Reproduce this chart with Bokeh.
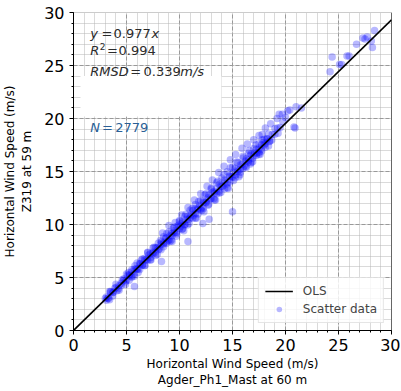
from bokeh.plotting import figure
from bokeh.models import (Label, BoxAnnotation, Span, SingleIntervalTicker, Range1d)
from bokeh.embed import file_html
from bokeh.resources import INLINE

# ---------------- data ----------------
slope = 0.977
n_points = 2779
r2 = 0.994
rmsd = 0.339

core_x = [3.00, 3.25, 3.50, 3.75, 4.00, 4.25, 4.50, 4.75, 5.00, 5.25, 5.50, 5.75, 6.00, 6.25,
          6.50, 6.75, 7.00, 7.25, 7.50, 7.75, 8.00, 8.25, 8.50, 8.75, 9.00, 9.25, 9.50, 9.75,
          10.00, 10.25, 10.50, 10.75, 11.00, 11.25, 11.50, 11.75, 12.00, 12.25, 12.50, 12.75,
          13.00, 13.25, 13.50, 13.75, 14.00, 14.25, 14.50, 14.75, 15.00, 15.25, 15.50, 15.75,
          16.00, 16.25, 16.50, 16.75, 17.00, 17.25, 17.50, 17.75, 18.00, 18.25, 18.50, 18.75,
          19.00, 19.25, 19.50, 19.75, 20.00]
core_y = [3.03, 3.06, 3.62, 3.61, 4.06, 3.95, 4.45, 4.89, 4.74, 5.23, 5.12, 5.80, 5.78, 6.33,
          6.17, 6.64, 6.62, 7.23, 7.23, 7.82, 7.62, 8.14, 8.15, 8.75, 8.54, 9.16, 9.23, 9.81,
          9.59, 10.11, 9.98, 10.72, 10.63, 11.29, 11.02, 11.53, 11.42, 12.22, 12.13, 12.78,
          12.45, 13.10, 12.89, 13.78, 13.58, 14.20, 13.82, 14.53, 14.46, 15.28, 14.99, 15.64,
          15.31, 15.98, 15.90, 16.66, 16.49, 17.07, 16.82, 17.49, 17.49, 18.08, 17.87, 18.50,
          18.51, 19.11, 19.15, 19.70, 20.09]

dense_x = [3.1, 3.3, 3.5, 3.7, 3.9, 4.1, 4.3, 4.5, 4.7, 4.9, 5.1, 5.3, 5.5, 5.7, 5.9, 6.1,
           6.3, 6.5, 6.7, 6.9, 7.1, 7.3, 7.5, 7.7, 7.9, 8.1, 8.3, 8.5, 8.7, 8.9, 9.1, 9.3,
           9.5, 9.7, 9.9, 10.1, 10.3, 10.5, 10.7, 10.9, 11.1, 11.3, 11.5, 11.7, 11.9, 12.1,
           12.3, 12.5, 12.7, 12.9, 13.1, 13.3, 13.5, 13.7, 13.9, 14.1, 14.3, 14.5, 14.7, 14.9,
           15.1, 15.3, 15.5, 15.7, 15.9, 16.1, 16.3, 16.5, 16.7, 16.9, 17.1, 17.3, 17.5, 17.7,
           17.9, 18.1, 18.3, 18.5]
dense_y = [3.15, 3.02, 3.67, 3.56, 3.99, 3.76, 4.25, 4.25, 4.71, 4.59, 5.23, 5.13, 5.55, 5.32,
           5.81, 5.81, 6.28, 6.15, 6.80, 6.69, 7.12, 6.88, 7.38, 7.37, 7.84, 7.71, 8.36, 8.25,
           8.68, 8.45, 8.94, 8.94, 9.40, 9.28, 9.92, 9.82, 10.24, 10.01, 10.50, 10.50, 10.96,
           10.84, 11.49, 11.38, 11.81, 11.57, 12.07, 12.06, 12.53, 12.40, 13.05, 12.94, 13.37,
           13.13, 13.63, 13.63, 14.09, 13.97, 14.61, 14.51, 14.93, 14.70, 15.19, 15.19, 15.65,
           15.53, 16.18, 16.07, 16.50, 16.26, 16.76, 16.75, 17.22, 17.09, 17.74, 17.63, 18.06,
           17.82]

mid_x = [5.00, 5.25, 5.50, 5.75, 6.00, 6.25, 6.50, 6.75, 7.00, 7.25, 7.50, 7.75, 8.00, 8.25,
         8.50, 8.75, 9.00, 9.25, 9.50, 9.75, 10.00, 10.25, 10.50, 10.75, 11.00, 11.25, 11.50,
         11.75, 12.00, 12.25, 12.50, 12.75, 13.00, 13.25, 13.50, 13.75, 14.00, 14.25, 14.50,
         14.75, 15.00, 15.25, 15.50, 15.75, 16.00, 16.25, 16.50, 16.75, 17.00, 17.25, 17.50,
         17.75, 18.00]
mid_y = [5.34, 4.73, 5.72, 5.12, 6.36, 5.76, 6.75, 6.14, 7.39, 6.68, 7.78, 7.07, 8.22, 7.61,
         8.85, 8.20, 9.29, 8.54, 9.73, 9.13, 10.37, 9.56, 10.76, 9.95, 11.35, 10.59, 11.89,
         10.98, 12.27, 11.52, 12.91, 11.91, 13.35, 12.45, 13.94, 12.98, 14.38, 13.37, 14.97,
         14.01, 15.41, 14.40, 15.84, 14.94, 16.28, 15.48, 16.72, 15.86, 17.16, 16.50, 17.60,
         16.94, 18.04]

band_x = [3.10, 3.40, 3.70, 4.00, 4.30, 4.60, 4.90, 5.20, 5.50, 5.80, 6.10, 6.40, 6.70, 7.00,
          7.30, 7.60, 7.90, 8.20, 8.50, 8.80, 9.10, 9.40, 9.70, 10.00, 10.30, 10.60, 10.90,
          11.20, 11.50, 11.80, 12.10, 12.40, 12.70, 13.00, 13.30, 13.60, 13.90, 14.20, 14.50,
          14.80, 15.10, 15.40, 15.70, 16.00, 16.30, 16.60, 16.90, 17.20, 17.50, 17.80, 18.10,
          18.40, 18.70, 19.00, 19.30]
band_y = [2.85, 3.67, 3.26, 4.36, 3.80, 4.79, 4.34, 5.48, 5.02, 6.12, 5.46, 6.63, 6.13, 7.34,
          6.65, 7.85, 7.17, 8.49, 7.90, 9.15, 8.39, 9.63, 8.90, 10.29, 9.61, 10.96, 10.10,
          11.52, 10.62, 12.18, 11.32, 12.81, 11.81, 13.45, 12.31, 14.09, 13.03, 14.72, 13.47,
          15.36, 14.15, 15.90, 14.69, 16.43, 15.38, 16.97, 15.91, 17.50, 16.65, 17.99, 17.28,
          18.53, 17.97, 19.06, 18.61]

wide_x = [8.4, 9.0, 9.6, 10.2, 10.8, 11.4, 12.0, 12.6, 13.1, 13.7, 14.2, 14.8, 15.3, 15.9,
          16.4, 17.0, 17.5, 18.1, 18.6, 19.2, 9.3, 10.4, 11.6, 12.3, 13.4, 14.6, 15.6, 16.7,
          17.6, 18.4]
wide_y = [9.2, 9.9, 10.2, 10.9, 11.6, 12.3, 12.9, 13.6, 14.2, 14.9, 15.5, 16.1, 16.6, 17.2,
          17.6, 18.0, 18.4, 19.1, 19.5, 20.0, 8.4, 9.4, 10.6, 11.2, 12.3, 13.4, 14.5, 15.7,
          16.6, 17.4]

out_x = [3.4, 5.75, 8.3, 10.8, 12.8, 12.2, 15.0, 17.8, 19.4, 19.7, 20.2, 20.4, 20.8, 20.9,
         21.0, 21.5, 24.2, 24.4, 25.1, 25.3, 25.8, 26.0, 26.7, 27.3, 27.5, 27.7, 28.1, 28.2,
         28.4]
out_y = [2.9, 4.15, 6.5, 8.4, 10.5, 10.1, 11.2, 18.5, 20.4, 20.4, 20.7, 20.8, 19.2, 19.1,
         21.1, 21.0, 24.4, 25.8, 25.1, 25.1, 25.9, 25.9, 27.0, 27.6, 27.5, 27.7, 27.3, 26.7,
         28.3]

scatter_x = core_x + dense_x + mid_x + band_x + wide_x + out_x
scatter_y = core_y + dense_y + mid_y + band_y + wide_y + out_y

ols_x = [0, 30]
ols_y = [slope * v for v in ols_x]

ticks_interval = 5

# ---------------- figure ----------------
FONT = "DejaVu Sans"
p = figure(frame_width=318, frame_height=318, x_range=Range1d(0, 30), y_range=Range1d(0, 30),
           output_backend="svg", toolbar_location=None,
           min_border_left=66, min_border_right=9, min_border_top=12, min_border_bottom=50)
p.background_fill_color = "white"
p.border_fill_color = "white"
p.outline_line_color = "#cccccc"

sc = p.scatter(scatter_x, scatter_y, size=7.5, fill_color="blue", fill_alpha=0.28,
               line_color=None, legend_label="Scatter data")
ln = p.line(ols_x, ols_y, line_color="black", line_width=1.6, legend_label="OLS")

# white box behind the annotation area
p.add_layout(BoxAnnotation(left=0.66, right=13.96, bottom=20.2, top=24.0,
                           fill_color="white", fill_alpha=1.0, line_color=None, level="underlay"))

for ax in (p.xaxis[0], p.yaxis[0]):
    ax.ticker = SingleIntervalTicker(interval=ticks_interval, num_minor_ticks=5)
    ax.major_label_text_font = FONT
    ax.major_label_text_font_size = "16px"
    ax.major_label_text_color = "black"
    ax.axis_label_text_font = FONT
    ax.axis_label_text_font_size = "12px"
    ax.axis_label_text_font_style = "normal"
    ax.axis_label_text_color = "black"
    ax.axis_line_color = "black"
    ax.major_tick_line_color = "black"
    ax.minor_tick_line_color = "black"
    ax.major_tick_out = 4
    ax.major_tick_in = 0
    ax.minor_tick_out = 2
    ax.minor_tick_in = 0

p.xaxis.major_label_standoff = 4
p.xaxis.axis_label_standoff = 3
p.yaxis.major_label_standoff = 5
p.yaxis.axis_label_standoff = 7

p.xaxis.axis_label = "Horizontal Wind Speed (m/s)\nAgder_Ph1_Mast at 60 m"
p.yaxis.axis_label = "Horizontal Wind Speed (m/s)\nZ319 at 59 m"

for g in (p.xgrid[0], p.ygrid[0]):
    g.ticker = SingleIntervalTicker(interval=ticks_interval, num_minor_ticks=5)
    g.grid_line_color = "#999999"
    g.grid_line_dash = "4 2"
    g.grid_line_width = 1
    g.minor_grid_line_color = "#b5b5b5"
    g.minor_grid_line_dash = "1 1"
    g.minor_grid_line_width = 1

p.add_layout(Span(location=30, dimension="height", line_color="black", line_width=1))

# annotation text pieces
TXT = "#2b2b2b"
def piece(x, y, text, dx, style="normal", size="13px", color=TXT, dy=0):
    p.add_layout(Label(x=x, y=y, text=text, x_offset=dx, y_offset=dy,
                       text_font=FONT, text_font_size=size, text_font_style=style,
                       text_color=color, text_baseline="middle", text_align="left"))

x0 = 1.58
piece(x0, 28.05, "y", 0, "italic")
piece(x0, 28.05, "=", 11.3)
piece(x0, 28.05, f"{slope:.3f}", 23.3)
piece(x0, 28.05, "x", 61.3, "italic")

piece(x0, 26.45, "R", 0, "italic")
piece(x0, 26.45, "2", 9.6, size="9px", dy=4)
piece(x0, 26.45, "=", 16.7)
piece(x0, 26.45, f"{r2:.3f}", 28.3)

piece(x0, 24.4, "RMSD", 0, "italic")
piece(x0, 24.4, "=", 40.0)
piece(x0, 24.4, f"{rmsd:.3f}", 53.3)
piece(x0, 24.4, "m/s", 90.0, "italic")

NCOL = "#2a5f96"
piece(x0, 19.15, "N", 0, "italic", color=NCOL)
piece(x0, 19.15, "=", 11.7, color=NCOL)
piece(x0, 19.15, f"{n_points}", 25.0, color=NCOL)

# legend
leg = p.legend[0]
leg.items = [leg.items[1], leg.items[0]]
leg.location = "bottom_right"
leg.margin = 7
leg.padding = 6
leg.spacing = 4
leg.label_text_font = FONT
leg.label_text_font_size = "12px"
leg.label_height = 14
leg.glyph_height = 14
leg.glyph_width = 28
leg.label_standoff = 10
leg.border_line_color = "#cccccc"
leg.background_fill_alpha = 0.8

open("out.html", "w").write(file_html(p, INLINE))
